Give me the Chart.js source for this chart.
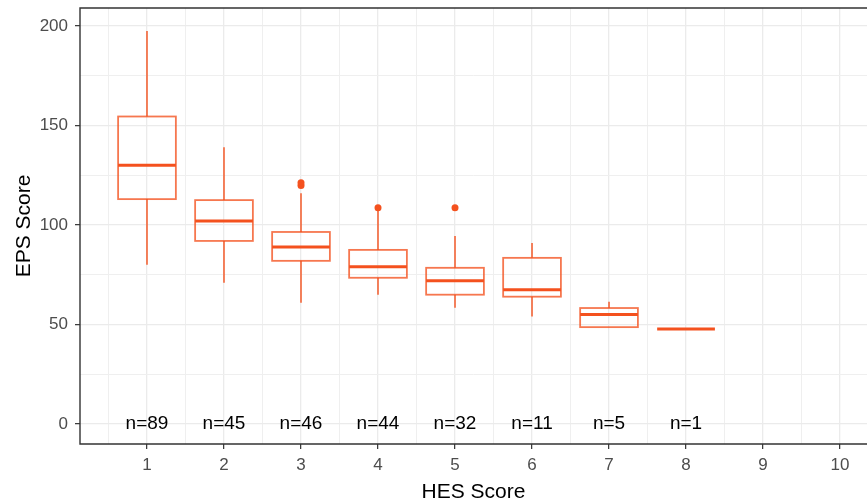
<!DOCTYPE html>
<html>
<head>
<meta charset="utf-8">
<script src="https://cdn.jsdelivr.net/npm/chart.js@4/dist/chart.umd.min.js"></script>
<style>
    html, body { margin: 0; padding: 0; background: #fff; }
    #wrap { width: 867px; height: 503px; }
</style>
</head>
<body>
<div id="wrap"><canvas id="chart" width="867" height="503"></canvas></div>
<script>
// ── Data ─────────────────────────────────────────────────────
const hesScores   = [1, 2, 3, 4, 5, 6, 7, 8];
const whiskerLow  = [80, 71, 61, 65, 58.5, 54, 48.7, 47.8];
const q1          = [113, 92, 82, 73.5, 65, 64, 48.7, 47.8];
const medians     = [130, 102, 89, 79, 72, 67.5, 55, 47.8];
const q3          = [154.5, 112.5, 96.5, 87.5, 78.5, 83.5, 58.3, 47.8];
const whiskerHigh = [197.5, 139, 116, 107, 94.5, 91, 61.5, 47.8];
const counts      = [89, 45, 46, 44, 32, 11, 5, 1];

const outlierX = [3, 3, 4, 5];
const outlierY = [119.8, 121.2, 108.7, 108.7];

const xTicks = [1, 2, 3, 4, 5, 6, 7, 8, 9, 10];
const yTicks = [0, 50, 100, 150, 200];

// ── Style ────────────────────────────────────────────────────
const ORANGE = '#F4511E';
const ORANGE_LIGHT = 'rgba(244, 81, 30, 0.78)';
const GRID = '#EBEBEB';
const GRID_MINOR = '#EFEFEF';
const DARK = '#333333';
const TICK_TEXT = '#4D4D4D';
const BOX_HALF = 0.375;

// minor breaks halfway between majors
function withMinors(majors, step) {
    const all = [];
    majors.forEach(v => { all.push(v); all.push(v - step / 2); });
    all.push(majors[majors.length - 1] + step / 2);
    return all.sort((a, b) => a - b);
}
const xAll = withMinors(xTicks, 1);
const yAll = withMinors(yTicks, 50);
const isMajorX = v => xTicks.includes(v);
const isMajorY = v => yTicks.includes(v);

// ── Box plot drawing (uses chart scales) ─────────────────────
const boxPlugin = {
    id: 'boxes',
    beforeDatasetsDraw(chart) {
        const { ctx, scales: { x, y }, chartArea } = chart;
        ctx.save();
        ctx.beginPath();
        ctx.rect(chartArea.left, chartArea.top, chartArea.right - chartArea.left, chartArea.bottom - chartArea.top);
        ctx.clip();
        hesScores.forEach((h, i) => {
            const cx = x.getPixelForValue(h);
            const xl = x.getPixelForValue(h - BOX_HALF);
            const xr = x.getPixelForValue(h + BOX_HALF);
            const yLo = y.getPixelForValue(whiskerLow[i]);
            const yQ1 = y.getPixelForValue(q1[i]);
            const yMed = y.getPixelForValue(medians[i]);
            const yQ3 = y.getPixelForValue(q3[i]);
            const yHi = y.getPixelForValue(whiskerHigh[i]);

            ctx.strokeStyle = ORANGE_LIGHT;
            ctx.lineWidth = 1.8;
            // whiskers
            ctx.beginPath();
            ctx.moveTo(cx, yQ3); ctx.lineTo(cx, yHi);
            ctx.moveTo(cx, yQ1); ctx.lineTo(cx, yLo);
            ctx.stroke();
            // box
            if (q3[i] > q1[i]) {
                ctx.strokeRect(xl, yQ3, xr - xl, yQ1 - yQ3);
            }
            // median
            ctx.strokeStyle = ORANGE;
            ctx.lineWidth = 3;
            ctx.beginPath();
            ctx.moveTo(xl, yMed); ctx.lineTo(xr, yMed);
            ctx.stroke();
        });

        // n= labels at y = 0
        ctx.fillStyle = '#000';
        ctx.font = '19px "Liberation Sans", Arial, sans-serif';
        ctx.textAlign = 'center';
        ctx.textBaseline = 'middle';
        hesScores.forEach((h, i) => {
            ctx.fillText('n=' + counts[i], x.getPixelForValue(h), y.getPixelForValue(0));
        });
        ctx.restore();
    },
    afterDraw(chart) {
        // panel border: top, left, bottom (right edge is cropped in the original)
        const { ctx, chartArea: a } = chart;
        ctx.save();
        ctx.strokeStyle = DARK;
        ctx.lineWidth = 1.4;
        ctx.beginPath();
        ctx.moveTo(a.right + 2, a.top);
        ctx.lineTo(a.left, a.top);
        ctx.lineTo(a.left, a.bottom);
        ctx.lineTo(a.right + 2, a.bottom);
        ctx.stroke();
        ctx.restore();
    }
};

// ── Chart ────────────────────────────────────────────────────
new Chart(document.getElementById('chart'), {
    type: 'scatter',
    data: {
        datasets: [{
            label: 'Outliers',
            data: outlierX.map((v, i) => ({ x: v, y: outlierY[i] })),
            backgroundColor: ORANGE,
            borderColor: ORANGE,
            pointRadius: 3.5,
            borderWidth: 0,
        }],
    },
    options: {
        responsive: false,
        animation: false,
        layout: { autoPadding: false, padding: { top: 8, left: 0, right: 0, bottom: 0 } },
        plugins: { legend: { display: false }, tooltip: { enabled: false } },
        scales: {
            x: {
                type: 'linear',
                min: 0.13,
                max: 10.35,
                afterBuildTicks: axis => { axis.ticks = xAll.filter(v => v >= 0.13 && v <= 10.35).map(v => ({ value: v })); },
                afterFit: axis => { axis.height = 59; axis.paddingLeft = 0; axis.paddingRight = 0; },
                border: { display: false },
                grid: {
                    color: ctx => isMajorX(ctx.tick.value) ? GRID : GRID_MINOR,
                    lineWidth: ctx => isMajorX(ctx.tick.value) ? 1.3 : 1,
                    tickColor: ctx => isMajorX(ctx.tick.value) ? DARK : 'rgba(0,0,0,0)',
                    tickLength: 5,
                    tickWidth: 1.2,
                },
                ticks: {
                    autoSkip: false,
                    maxRotation: 0,
                    padding: 6,
                    color: TICK_TEXT,
                    font: { family: '"Liberation Sans", Arial, sans-serif', size: 17 },
                    callback: v => isMajorX(v) ? String(v) : '',
                },
                title: {
                    display: true,
                    text: 'HES Score',
                    color: '#000',
                    padding: { top: 0, bottom: 0 },
                    font: { family: '"Liberation Sans", Arial, sans-serif', size: 21, lineHeight: 1 },
                },
            },
            y: {
                min: -10,
                max: 209,
                afterBuildTicks: axis => { axis.ticks = yAll.filter(v => v >= -10 && v <= 209).map(v => ({ value: v })); },
                afterFit: axis => { axis.width = 80; axis.paddingTop = 0; axis.paddingBottom = 0; },
                border: { display: false },
                grid: {
                    color: ctx => isMajorY(ctx.tick.value) ? GRID : GRID_MINOR,
                    lineWidth: ctx => isMajorY(ctx.tick.value) ? 1.3 : 1,
                    tickColor: ctx => isMajorY(ctx.tick.value) ? DARK : 'rgba(0,0,0,0)',
                    tickLength: 5,
                    tickWidth: 1.2,
                },
                ticks: {
                    autoSkip: false,
                    padding: 7,
                    color: TICK_TEXT,
                    font: { family: '"Liberation Sans", Arial, sans-serif', size: 17 },
                    callback: v => isMajorY(v) ? String(v) : '',
                },
                title: {
                    display: true,
                    text: 'EPS Score',
                    color: '#000',
                    padding: { top: 14, bottom: 0 },
                    font: { family: '"Liberation Sans", Arial, sans-serif', size: 21, lineHeight: 1 },
                },
            },
        },
    },
    plugins: [boxPlugin],
});
</script>
</body>
</html>
